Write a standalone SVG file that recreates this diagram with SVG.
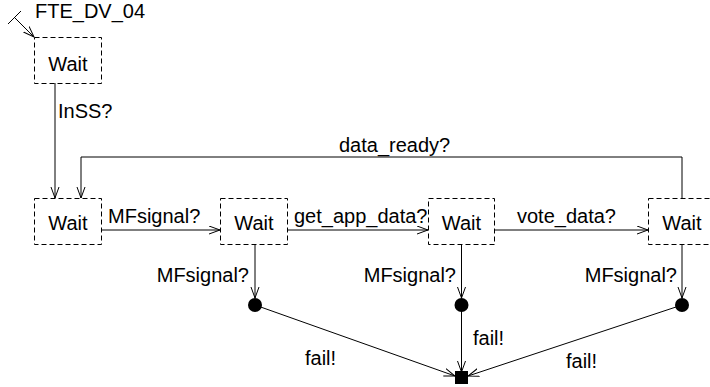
<svg xmlns="http://www.w3.org/2000/svg" width="710" height="387" viewBox="0 0 710 387">
<defs>
<style>
text{font-family:"Liberation Sans",Arial,sans-serif;font-size:20px;fill:#000}
.box{fill:none;stroke:#000;stroke-width:1;stroke-dasharray:5,3}
.ln{fill:none;stroke:#000;stroke-width:1}
.ar{marker-end:url(#ah)}
</style>
<marker id="ah" markerUnits="userSpaceOnUse" markerWidth="12" markerHeight="10" refX="11" refY="4.5" orient="auto">
<path d="M0,0.5 L11,4.5 L0,8.5" fill="none" stroke="#000" stroke-width="1"/>
</marker>
</defs>
<g id="connectors">
<line class="ln" x1="8" y1="24" x2="21" y2="11"/>
<line class="ln ar" x1="14.5" y1="17.5" x2="34" y2="37"/>
<text x="35" y="18">FTE_DV_04</text>
<line class="ln ar" x1="55" y1="83" x2="55" y2="198"/>
<text x="58" y="118">InSS?</text>
<polyline class="ln ar" points="682,198 682,157 81,157 81,198"/>
<text x="339" y="152">data_ready?</text>
<line class="ln ar" x1="101" y1="230" x2="220" y2="230"/>
<text x="108" y="223">MFsignal?</text>
<line class="ln ar" x1="287" y1="230" x2="428" y2="230"/>
<text x="294" y="223">get_app_data?</text>
<line class="ln ar" x1="494" y1="230" x2="648" y2="230"/>
<text x="517" y="223">vote_data?</text>
<line class="ln ar" x1="255" y1="244" x2="255" y2="298"/>
<text x="249" y="282" text-anchor="end">MFsignal?</text>
<line class="ln ar" x1="461.5" y1="244" x2="461.5" y2="298"/>
<text x="456" y="282" text-anchor="end">MFsignal?</text>
<line class="ln ar" x1="682" y1="244" x2="682" y2="298"/>
<text x="677" y="282" text-anchor="end">MFsignal?</text>
<line class="ln ar" x1="255" y1="305" x2="455" y2="376"/>
<text x="305" y="365">fail!</text>
<line class="ln ar" x1="461.5" y1="305" x2="461.5" y2="372"/>
<text x="473" y="345">fail!</text>
<line class="ln ar" x1="682" y1="305" x2="468" y2="376"/>
<text x="566" y="368">fail!</text>
</g>
<g id="n1"><rect class="box" x="34.5" y="37.5" width="67" height="46"/><text x="68" y="71" text-anchor="middle">Wait</text></g>
<g id="n2"><rect class="box" x="34.5" y="198.5" width="67" height="46"/><text x="68" y="230" text-anchor="middle">Wait</text></g>
<g id="n3"><rect class="box" x="220.5" y="198.5" width="67" height="46"/><text x="254" y="230" text-anchor="middle">Wait</text></g>
<g id="n4"><rect class="box" x="428.5" y="198.5" width="66" height="46"/><text x="461.5" y="230" text-anchor="middle">Wait</text></g>
<g id="n5"><rect class="box" x="648.5" y="198.5" width="67" height="46"/><text x="682" y="230" text-anchor="middle">Wait</text></g>
<g id="c3"><circle cx="255" cy="305" r="7" fill="#000"/></g>
<g id="c4"><circle cx="461.5" cy="305" r="7" fill="#000"/></g>
<g id="c5"><circle cx="682" cy="305" r="7" fill="#000"/></g>
<g id="end"><rect x="455" y="371" width="13" height="13" fill="#000"/></g>
</svg>
